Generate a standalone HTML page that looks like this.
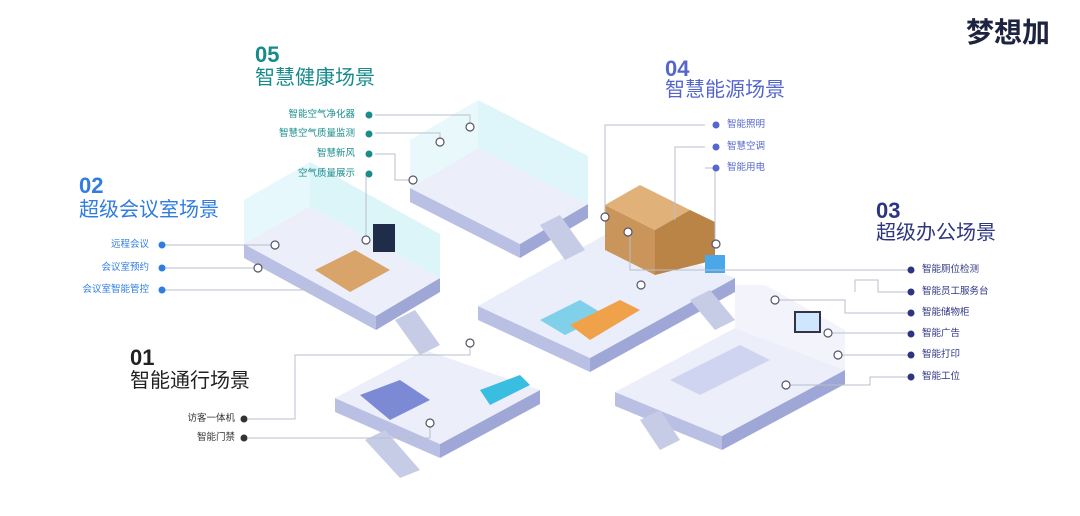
<!DOCTYPE html>
<html><head><meta charset="utf-8"><style>
html,body{margin:0;padding:0;background:#fff;}
body{width:1080px;height:516px;overflow:hidden;position:relative;font-family:"Liberation Sans","Noto Sans CJK SC",sans-serif;}
.t{position:absolute;white-space:nowrap;}
.num{font-weight:bold;font-size:22px;line-height:22px;}
.ttl{font-size:20px;line-height:22px;}
.lb{font-size:9.5px;line-height:10px;}
</style></head><body>
<svg width="1080" height="516" style="position:absolute;left:0;top:0">
<g stroke="none">
<!-- platform helper: top, left side, right side -->
<!-- 05 -->
<polygon points="410,188 410,202 520,258 520,244" fill="#b9c0e3"/>
<polygon points="520,244 520,258 588,218 588,204" fill="#9ea7d6"/>
<polygon points="410,188 478,148 588,204 520,244" fill="#eceefa"/>
<polygon points="410,188 410,140 478,100 478,148" fill="#e3f7fa" opacity=".8"/>
<polygon points="478,148 478,100 588,156 588,204" fill="#d6f3f7" opacity=".8"/>
<!-- 02 -->
<polygon points="244,244 244,258 376,330 376,316" fill="#b9c0e3"/>
<polygon points="376,316 376,330 440,292 440,278" fill="#9ea7d6"/>
<polygon points="244,244 310,206 440,278 376,316" fill="#eceefa"/>
<polygon points="244,244 244,200 310,162 310,206" fill="#e0f6fa" opacity=".8"/>
<polygon points="310,206 310,162 440,234 440,278" fill="#d3f2f7" opacity=".8"/>
<!-- middle -->
<polygon points="478,306 478,320 590,372 590,358" fill="#b9c0e3"/>
<polygon points="590,358 590,372 735,292 735,278" fill="#9ea7d6"/>
<polygon points="478,306 610,232 735,278 590,358" fill="#eaedfa"/>
<!-- brown box -->
<polygon points="605,205 605,250 655,275 655,230" fill="#c9955a"/>
<polygon points="605,205 640,185 690,210 655,230" fill="#e0b27a"/>
<polygon points="655,230 690,210 715,222 715,260 655,275" fill="#b98446"/>
<!-- 03 -->
<polygon points="615,392 615,406 722,450 722,436" fill="#b9c0e3"/>
<polygon points="722,436 722,450 845,384 845,370" fill="#9ea7d6"/>
<polygon points="615,392 735,328 845,370 722,436" fill="#eceefa"/>
<polygon points="735,328 735,285 765,285 845,330 845,370" fill="#f2f3fb"/>
<!-- 01 -->
<polygon points="335,398 335,412 440,458 440,444" fill="#b9c0e3"/>
<polygon points="440,444 440,458 540,404 540,390" fill="#9ea7d6"/>
<polygon points="335,398 425,350 540,390 440,444" fill="#eceefa"/>
<!-- stairs -->
<g fill="#c7cce6">
<polygon points="540,225 560,215 585,250 565,260"/>
<polygon points="395,320 415,310 440,345 420,355"/>
<polygon points="690,300 710,290 735,320 715,330"/>
<polygon points="640,420 660,410 680,440 660,450"/>
<polygon points="365,440 385,430 420,470 400,478"/>
</g>
<!-- furniture hints -->
<polygon points="315,270 355,250 390,270 350,292" fill="#d9a46a"/>
<rect x="373" y="224" width="22" height="28" fill="#1f2d4a"/>
<polygon points="360,395 400,380 430,400 390,420" fill="#7c8ad6"/>
<polygon points="480,390 520,375 530,385 490,405" fill="#39bde0"/>
<polygon points="540,320 580,300 605,315 565,335" fill="#39bde0" opacity=".6"/>
<polygon points="570,325 620,300 640,310 590,340" fill="#f0a24a"/>
<polygon points="670,380 740,345 770,360 700,395" fill="#cfd5f0"/>
<rect x="795" y="312" width="25" height="20" fill="#cfe6ff" stroke="#334" stroke-width="2"/>
<rect x="705" y="255" width="20" height="18" fill="#4aa7e8"/>
</g>
<!-- connector lines -->
<g fill="none" stroke="#b9bfcc" stroke-width="1">
<polyline points="375,115 470,115 470,125"/>
<polyline points="375,133 440,133 440,140"/>
<polyline points="375,154 395,154 395,180 410,180"/>
<polyline points="366,174 366,238"/>
<polyline points="165,245 275,245"/>
<polyline points="165,268 255,268"/>
<polyline points="165,290 320,290"/>
<polyline points="248,419 295,419 295,355 470,355 470,345"/>
<polyline points="248,438 430,438 430,425"/>
<polyline points="705,125 605,125 605,215"/>
<polyline points="705,147 675,147 675,220"/>
<polyline points="705,168 715,168 715,240"/>
<polyline points="630,232 630,270 910,270"/>
<polyline points="855,292 855,280 878,280 878,292 910,292"/>
<polyline points="775,300 845,300 845,313 910,313"/>
<polyline points="828,333 910,333"/>
<polyline points="840,355 910,355"/>
<polyline points="785,385 870,385 870,377 910,377"/>
</g>
<g fill="#fff" stroke="#556" stroke-width="1.2">
<circle cx="470" cy="127" r="4"/><circle cx="440" cy="142" r="4"/><circle cx="413" cy="180" r="4"/>
<circle cx="366" cy="240" r="4"/><circle cx="275" cy="245" r="4"/><circle cx="258" cy="268" r="4"/>
<circle cx="470" cy="343" r="4"/><circle cx="430" cy="423" r="4"/>
<circle cx="605" cy="217" r="4"/><circle cx="628" cy="232" r="4"/><circle cx="716" cy="244" r="4"/>
<circle cx="641" cy="285" r="4"/><circle cx="775" cy="300" r="4"/><circle cx="828" cy="333" r="4"/>
<circle cx="838" cy="355" r="4"/><circle cx="786" cy="385" r="4"/>
</g>
<g fill="#1a8c8e"><circle cx="369" cy="115" r="3.5"/><circle cx="369" cy="134" r="3.5"/><circle cx="369" cy="154" r="3.5"/><circle cx="369" cy="174" r="3.5"/></g>
<g fill="#2f7de0"><circle cx="162" cy="245" r="3.5"/><circle cx="162" cy="268" r="3.5"/><circle cx="162" cy="290" r="3.5"/></g>
<g fill="#333"><circle cx="244" cy="419" r="3.5"/><circle cx="244" cy="438" r="3.5"/></g>
<g fill="#5566cc"><circle cx="716" cy="125" r="3.5"/><circle cx="716" cy="147" r="3.5"/><circle cx="716" cy="168" r="3.5"/></g>
<g fill="#2d3580"><circle cx="911" cy="270" r="3.5"/><circle cx="911" cy="292" r="3.5"/><circle cx="911" cy="313" r="3.5"/><circle cx="911" cy="334" r="3.5"/><circle cx="911" cy="355" r="3.5"/><circle cx="911" cy="377" r="3.5"/></g>
</svg>
<div class="t" style="left:966px;top:18px;font-size:28px;font-weight:bold;color:#1e2340;line-height:30px;">梦想加</div>
<div class="t num" style="left:255px;top:44px;color:#178a8b">05</div>
<div class="t ttl" style="left:255px;top:67px;color:#178a8b">智慧健康场景</div>
<div class="t num" style="left:79px;top:175px;color:#2f7de0">02</div>
<div class="t ttl" style="left:79px;top:199px;color:#2f7de0">超级会议室场景</div>
<div class="t num" style="left:665px;top:58px;color:#5466cc">04</div>
<div class="t ttl" style="left:665px;top:79px;color:#5466cc">智慧能源场景</div>
<div class="t num" style="left:876px;top:200px;color:#2d3580">03</div>
<div class="t ttl" style="left:876px;top:222px;color:#2d3580">超级办公场景</div>
<div class="t num" style="left:130px;top:347px;color:#222">01</div>
<div class="t ttl" style="left:130px;top:370px;color:#222">智能通行场景</div>
<div style="color:#1a8c8e">
<div class="t lb" style="right:725px;top:110px">智能空气净化器</div>
<div class="t lb" style="right:725px;top:129px">智慧空气质量监测</div>
<div class="t lb" style="right:725px;top:149px">智慧新风</div>
<div class="t lb" style="right:725px;top:169px">空气质量展示</div>
</div>
<div style="color:#2f7de0">
<div class="t lb" style="right:931px;top:240px">远程会议</div>
<div class="t lb" style="right:931px;top:263px">会议室预约</div>
<div class="t lb" style="right:931px;top:285px">会议室智能管控</div>
</div>
<div style="color:#333">
<div class="t lb" style="right:845px;top:414px">访客一体机</div>
<div class="t lb" style="right:845px;top:433px">智能门禁</div>
</div>
<div style="color:#5566cc">
<div class="t lb" style="left:727px;top:120px">智能照明</div>
<div class="t lb" style="left:727px;top:142px">智慧空调</div>
<div class="t lb" style="left:727px;top:163px">智能用电</div>
</div>
<div style="color:#2d3580">
<div class="t lb" style="left:922px;top:265px">智能厕位检测</div>
<div class="t lb" style="left:922px;top:287px">智能员工服务台</div>
<div class="t lb" style="left:922px;top:308px">智能储物柜</div>
<div class="t lb" style="left:922px;top:329px">智能广告</div>
<div class="t lb" style="left:922px;top:350px">智能打印</div>
<div class="t lb" style="left:922px;top:372px">智能工位</div>
</div>
</body></html>
